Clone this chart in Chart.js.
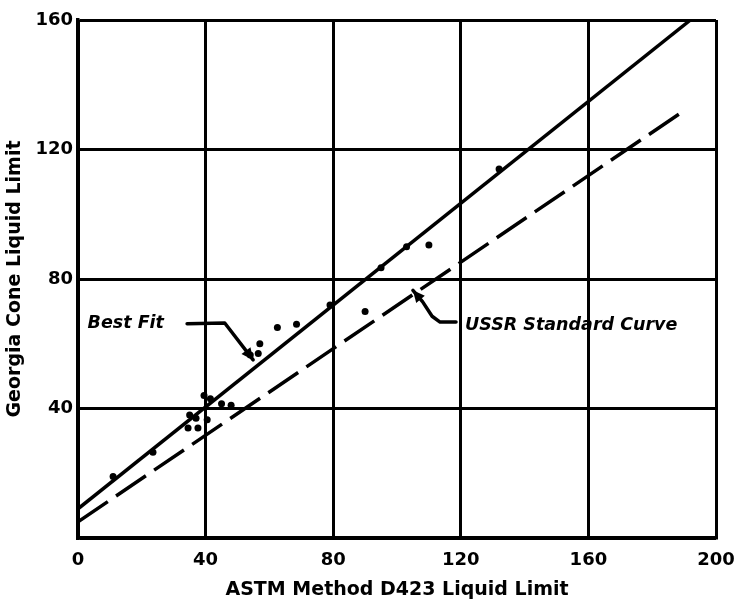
<!DOCTYPE html>
<html>
<head>
<meta charset="utf-8">
<script src="https://cdn.jsdelivr.net/npm/chart.js@4/dist/chart.umd.min.js"></script>
<style>
    html, body { margin: 0; padding: 0; background: #fff; }
    #wrap { width: 738px; height: 605px; }
</style>
</head>
<body>
<div id="wrap"><canvas id="chart"></canvas></div>
<script>
// Measured points (ASTM D423 vs Georgia cone)
const pointX = [11, 23.5, 34.5, 35, 37, 37.6, 39.5, 40.5, 41.5, 45, 48, 54, 56.5, 57, 62.5, 68.5, 79, 90, 95, 103, 110, 132];
const pointY = [19, 26.5, 34, 38, 37, 34, 44, 36.5, 43, 41.5, 41, 56.5, 57, 60, 65, 66, 72, 70, 83.5, 90, 90.5, 114];

// Best fit line end points
const bestFitX = [0, 192];
const bestFitY = [9, 160];

// USSR standard curve end points
const ussrX = [0, 190];
const ussrY = [5, 132];

const xTicks = [0, 40, 80, 120, 160, 200];
const yTicks = [0, 40, 80, 120, 160];

const toXY = (xs, ys) => xs.map((x, i) => ({ x: x, y: ys[i] }));

const INK = '#000';
const FONT = '"DejaVu Sans", sans-serif';

// Labels with leader arrows, in data units
const callouts = [
    {
        text: 'Best Fit', at: [3, 66.4],
        path: [[34.2, 66.2], [46, 66.4], [54.9, 55]]
    },
    {
        text: 'USSR Standard Curve', at: [121.3, 65.7],
        path: [[118.5, 66.7], [113.5, 66.7], [111, 68.5], [108, 73], [105, 76.5]]
    }
];

const calloutPlugin = {
    id: 'callouts',
    afterDatasetsDraw(chart) {
        const { ctx, scales: { x, y } } = chart;
        ctx.save();
        ctx.fillStyle = INK;
        ctx.strokeStyle = INK;
        ctx.lineWidth = 3.5;
        ctx.lineJoin = 'round';
        ctx.lineCap = 'round';
        ctx.font = 'italic bold 17.5px ' + FONT;
        ctx.textBaseline = 'middle';
        callouts.forEach(c => {
            ctx.fillText(c.text, x.getPixelForValue(c.at[0]), y.getPixelForValue(c.at[1]));
            const pts = c.path.map(p => [x.getPixelForValue(p[0]), y.getPixelForValue(p[1])]);
            ctx.beginPath();
            pts.forEach((p, i) => i ? ctx.lineTo(p[0], p[1]) : ctx.moveTo(p[0], p[1]));
            ctx.stroke();
            // arrow head
            const a = pts[pts.length - 2], b = pts[pts.length - 1];
            const ang = Math.atan2(b[1] - a[1], b[0] - a[0]);
            ctx.beginPath();
            ctx.moveTo(b[0], b[1]);
            ctx.lineTo(b[0] - 13 * Math.cos(ang - 0.45), b[1] - 13 * Math.sin(ang - 0.45));
            ctx.lineTo(b[0] - 13 * Math.cos(ang + 0.45), b[1] - 13 * Math.sin(ang + 0.45));
            ctx.closePath();
            ctx.fill();
        });
        ctx.restore();
    }
};

const ctx = document.getElementById('chart').getContext('2d');
new Chart(ctx, {
    type: 'scatter',
    data: {
        datasets: [
            {
                label: 'Data',
                data: toXY(pointX, pointY),
                pointRadius: 3.5,
                pointBackgroundColor: INK,
                pointBorderWidth: 0
            },
            {
                label: 'Best Fit',
                data: toXY(bestFitX, bestFitY),
                showLine: true,
                borderColor: INK,
                borderWidth: 3.5,
                pointRadius: 0
            },
            {
                label: 'USSR Standard Curve',
                data: toXY(ussrX, ussrY),
                showLine: true,
                borderColor: INK,
                borderWidth: 3.5,
                borderDash: [36, 10],
                pointRadius: 0
            }
        ]
    },
    options: {
        responsive: true,
        maintainAspectRatio: false,
        animation: false,
        layout: { padding: { left: 0, right: 22, top: 20, bottom: 0 } },
        plugins: {
            legend: { display: false },
            tooltip: { enabled: false }
        },
        scales: {
            x: {
                type: 'linear',
                min: 0,
                max: 200,
                afterBuildTicks: s => { s.ticks = xTicks.map(v => ({ value: v })); },
                afterFit: s => { s.height = 67; s.paddingLeft = 0; s.paddingRight = 0; },
                grid: { color: INK, lineWidth: 3, drawTicks: false },
                border: { color: INK, width: 3.5 },
                ticks: {
                    color: INK,
                    padding: 12,
                    font: { family: FONT, size: 18, weight: 'bold' }
                },
                title: {
                    display: true,
                    text: 'ASTM Method D423 Liquid Limit',
                    color: INK,
                    padding: { top: 0 },
                    font: { family: FONT, size: 19, weight: 'bold' }
                }
            },
            y: {
                type: 'linear',
                min: 0,
                max: 160,
                afterBuildTicks: s => { s.ticks = yTicks.map(v => ({ value: v })); },
                afterFit: s => { s.width = 78; s.paddingTop = 0; s.paddingBottom = 0; },
                grid: { color: INK, lineWidth: 3, drawTicks: false },
                border: { color: INK, width: 3.5 },
                ticks: {
                    color: INK,
                    padding: 5,
                    callback: v => v === 0 ? '' : v,
                    font: { family: FONT, size: 18, weight: 'bold' }
                },
                title: {
                    display: true,
                    text: 'Georgia Cone Liquid Limit',
                    color: INK,
                    padding: { bottom: 0 },
                    font: { family: FONT, size: 19, weight: 'bold' }
                }
            }
        }
    },
    plugins: [calloutPlugin]
});
</script>
</body>
</html>
